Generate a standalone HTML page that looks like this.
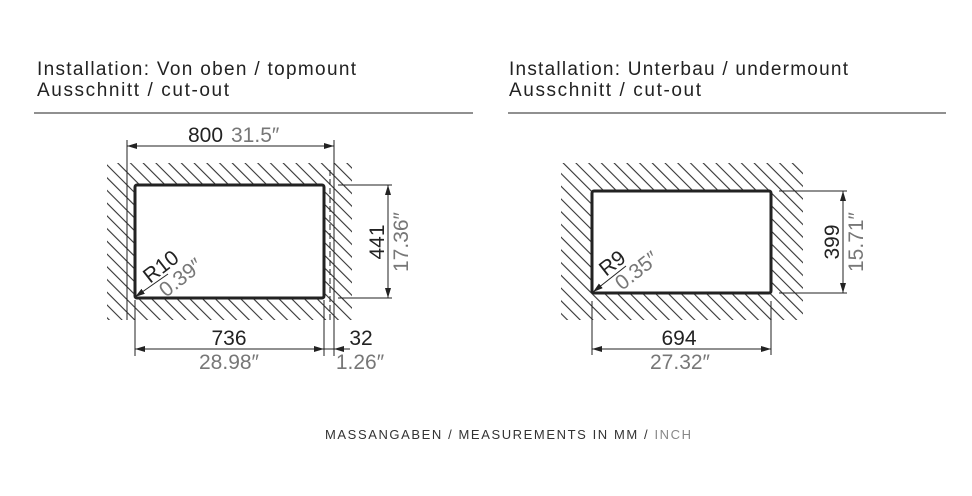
<!DOCTYPE html>
<html><head><style>body{margin:0;background:#fff}svg{display:block}</style></head>
<body>
<svg width="972" height="496" viewBox="0 0 972 496" xmlns="http://www.w3.org/2000/svg" font-family="Liberation Sans, sans-serif">
<defs>
<pattern id="h" width="9" height="9" patternUnits="userSpaceOnUse" patternTransform="rotate(-45)">
<line x1="4" y1="0" x2="4" y2="9" stroke="#333" stroke-width="1.1"/>
</pattern>
<marker id="a" viewBox="0 0 10 6" refX="10" refY="3" markerWidth="10" markerHeight="6" orient="auto-start-reverse" markerUnits="userSpaceOnUse">
<path d="M0,0 L10,3 L0,6 z" fill="#222"/>
</marker>
</defs>
<g font-size="19" fill="#222">
<text x="37" y="75" textLength="319">Installation: Von oben / topmount</text>
<text x="37" y="96" textLength="192">Ausschnitt / cut-out</text>
<text x="509" y="75" textLength="339">Installation: Unterbau / undermount</text>
<text x="509" y="96" textLength="192">Ausschnitt / cut-out</text>
</g>
<line x1="34" y1="113" x2="473" y2="113" stroke="#222" stroke-width="1"/>
<line x1="508" y1="113" x2="946" y2="113" stroke="#222" stroke-width="1"/>

<!-- left -->
<rect x="107" y="163" width="245" height="157" fill="url(#h)"/>
<rect x="135" y="185" width="189" height="113" rx="2" fill="#fff" stroke="#222" stroke-width="3"/>
<g stroke="#222" stroke-width="1" fill="none">
<line x1="127" y1="140" x2="127" y2="320"/>
<line x1="334" y1="140" x2="334" y2="325"/>
<line x1="330" y1="170" x2="330" y2="320" stroke-dasharray="6 3"/>
<line x1="127" y1="146" x2="334" y2="146" marker-start="url(#a)" marker-end="url(#a)"/>
<line x1="135" y1="300" x2="135" y2="356"/>
<line x1="324" y1="300" x2="324" y2="356"/>
<line x1="334" y1="325" x2="334" y2="356"/>
<line x1="135" y1="349" x2="324" y2="349" marker-start="url(#a)" marker-end="url(#a)"/>
<line x1="324" y1="349" x2="334" y2="349"/>
<line x1="334" y1="349" x2="350" y2="349" marker-start="url(#a)"/>
<line x1="338" y1="185" x2="392" y2="185"/>
<line x1="338" y1="298" x2="392" y2="298"/>
<line x1="388" y1="185" x2="388" y2="298" marker-start="url(#a)" marker-end="url(#a)"/>
<line x1="168" y1="274" x2="135" y2="297" marker-end="url(#a)"/>
</g>
<g font-size="21">
<text x="188" y="142" fill="#222">800</text>
<text x="231" y="142" fill="#777">31.5″</text>
<text x="229" y="345" fill="#222" text-anchor="middle">736</text>
<text x="229" y="369" fill="#777" text-anchor="middle">28.98″</text>
<text x="361" y="345" fill="#222" text-anchor="middle">32</text>
<text x="360" y="369" fill="#777" text-anchor="middle">1.26″</text>
<text transform="translate(384,242) rotate(-90)" fill="#222" text-anchor="middle">441</text>
<text transform="translate(408,242) rotate(-90)" fill="#777" text-anchor="middle">17.36″</text>
<text transform="translate(150,284) rotate(-38)" fill="#222">R10</text>
<text transform="translate(166,298) rotate(-38)" fill="#777">0.39″</text>
</g>

<!-- right -->
<rect x="561" y="163" width="242" height="157" fill="url(#h)"/>
<rect x="592" y="191" width="179" height="102" rx="2" fill="#fff" stroke="#222" stroke-width="3"/>
<g stroke="#222" stroke-width="1" fill="none">
<line x1="779" y1="191" x2="847" y2="191"/>
<line x1="779" y1="293" x2="847" y2="293"/>
<line x1="843" y1="191" x2="843" y2="293" marker-start="url(#a)" marker-end="url(#a)"/>
<line x1="592" y1="301" x2="592" y2="355"/>
<line x1="771" y1="301" x2="771" y2="355"/>
<line x1="592" y1="349" x2="771" y2="349" marker-start="url(#a)" marker-end="url(#a)"/>
<line x1="626" y1="266" x2="593" y2="292" marker-end="url(#a)"/>
</g>
<g font-size="21">
<text x="679" y="345" fill="#222" text-anchor="middle">694</text>
<text x="680" y="369" fill="#777" text-anchor="middle">27.32″</text>
<text transform="translate(839,242) rotate(-90)" fill="#222" text-anchor="middle">399</text>
<text transform="translate(863,242) rotate(-90)" fill="#777" text-anchor="middle">15.71″</text>
<text transform="translate(606,277) rotate(-38)" fill="#222">R9</text>
<text transform="translate(622,291) rotate(-38)" fill="#777">0.35″</text>
</g>

<text x="508" y="439" font-size="13" text-anchor="middle" fill="#333" textLength="366">MASSANGABEN / MEASUREMENTS IN MM / <tspan fill="#888">INCH</tspan></text>
</svg>
</body></html>
